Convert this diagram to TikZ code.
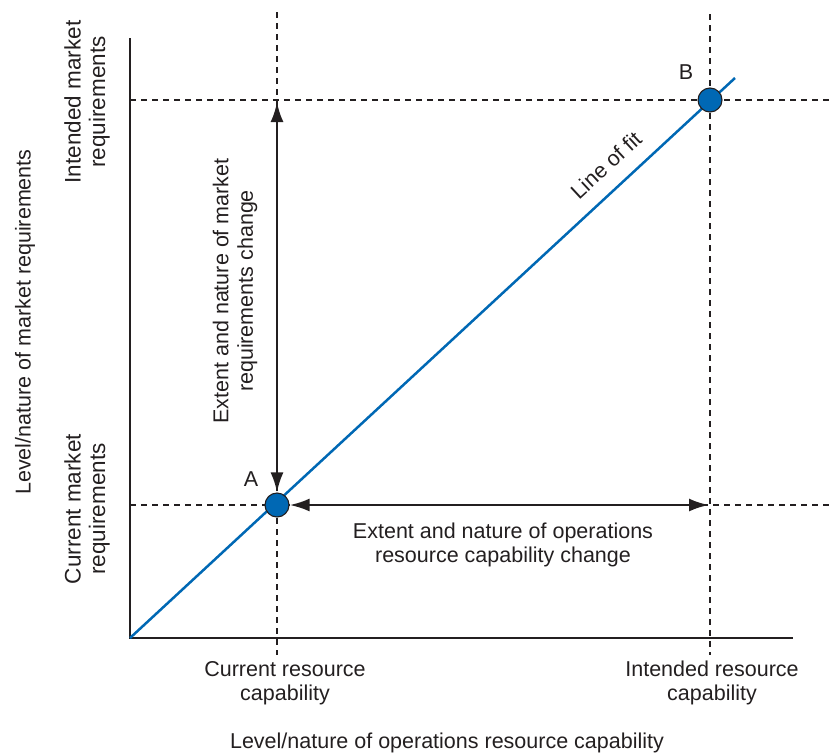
\documentclass[tikz,border=0pt]{standalone}
\usepackage{fontspec}
\setmainfont{Liberation Sans}
\usetikzlibrary{arrows.meta}
\definecolor{ink}{HTML}{231F20}
\definecolor{fitblue}{HTML}{0068B4}
\begin{document}
\begin{tikzpicture}[x=1pt,y=-1pt,
  axis/.style={draw=ink,line width=1.3pt},
  guide/.style={draw=ink,line width=1.1pt,dash pattern=on 6pt off 5pt},
  fit/.style={draw=fitblue,line width=2.5pt},
  pt/.style={circle,draw=ink,line width=1.1pt,fill=fitblue,minimum size=24pt,inner sep=0pt},
  arr/.style={draw=ink,line width=2.6pt,{Latex[length=20pt,width=13pt]}-{Latex[length=20pt,width=13pt]}},
  lab/.style={text=ink,font=\fontsize{21.5pt}{24.5pt}\selectfont,align=center,inner sep=0pt},
  tick/.style={lab,font=\fontsize{22.5pt}{24.5pt}\selectfont}]
\useasboundingbox (0,0) rectangle (829,755);
% axes
\coordinate (O) at (130,638);
\coordinate (ytop) at (130,38);
\coordinate (xend) at (793,638);
\draw[axis] (ytop) -- (O) -- (xend);
% guides
\coordinate (g1t) at (277,12); \coordinate (g1b) at (277,655);
\coordinate (g2t) at (710,14); \coordinate (g2b) at (710,655);
\coordinate (h1l) at (130,505); \coordinate (h1r) at (829,505);
\coordinate (h2l) at (130,100); \coordinate (h2r) at (829,100);
\draw[guide] (g1t) -- (g1b);
\draw[guide] (g2t) -- (g2b);
\draw[guide] (h1l) -- (h1r);
\draw[guide] (h2l) -- (h2r);
% line of fit
\coordinate (fitend) at (735,78);
\draw[fit] (O) -- (fitend);
\node[lab,rotate=42.8] (fitlab) at (606,165) {Line of fit};
% points
\node[pt] (A) at (277,505) {};
\node[pt] (B) at (710,100) {};
\node[lab] (Alab) at (251,479) {A};
\node[lab] (Blab) at (686,72) {B};
% arrows
\coordinate (vtop) at (277,102);
\coordinate (hright) at (709,505);
\draw[arr] (vtop) -- (A.north);
\draw[arr] (A.east) -- (hright);
% labels
\node[lab] (hlab) at (503,545) {Extent and nature of operations\\resource capability change};
\node[lab,rotate=90] (vlab) at (235,291) {Extent and nature of market\\requirements change};
\node[tick,rotate=90] (yhi) at (87,102) {Intended market\\requirements};
\node[tick,rotate=90] (ylo) at (87,509) {Current market\\requirements};
\node[lab,rotate=90] (ytitle) at (25,322) {Level/nature of market requirements};
\node[lab] (xlo) at (285,683) {Current resource\\capability};
\node[lab] (xhi) at (712,683) {Intended resource\\capability};
\node[lab] (xtitle) at (447,743) {Level/nature of operations resource capability};
\end{tikzpicture}
\end{document}
